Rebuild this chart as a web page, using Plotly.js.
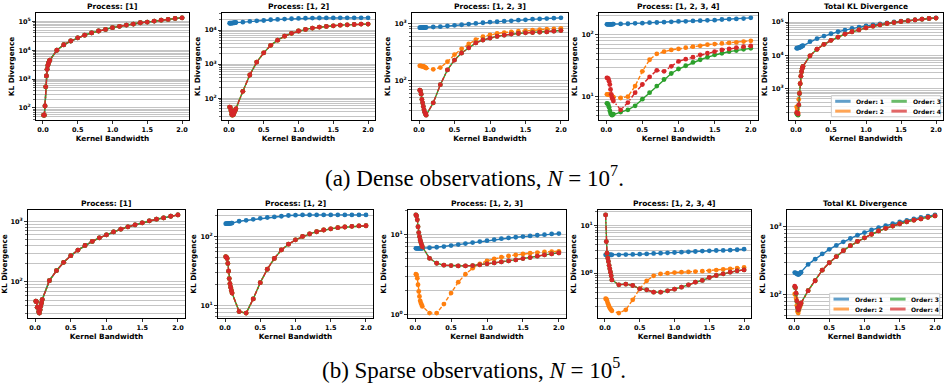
<!DOCTYPE html>
<html><head><meta charset="utf-8">
<script src="https://cdn.plot.ly/plotly-3.0.1.min.js"></script>
<style>html,body{margin:0;padding:0;background:#fff}</style>
</head><body><div id="chart" style="width:948px;height:392px"></div>
<script>
const bandwidth = [0.01,0.02,0.03,0.04,0.05,0.06,0.07,0.08,0.09,0.1,0.2,0.3,0.4,0.5,0.6,0.7,0.8,0.9,1.0,1.1,1.2,1.3,1.4,1.5,1.6,1.7,1.8,1.9,2.0];
const xTickVals = [0, 0.5, 1, 1.5, 2];
const xTickText = ['0.0','0.5','1.0','1.5','2.0'];
const orderNames = ['Order: 1','Order: 2','Order: 3','Order: 4'];
const panelTitles = ['Process: [1]','Process: [1, 2]','Process: [1, 2, 3]','Process: [1, 2, 3, 4]','Total KL Divergence'];
const captions = ['(a) Dense observations, <i>N</i> = 10<sup>7</sup>.', '(b) Sparse observations, <i>N</i> = 10<sup>5</sup>.'];

// ---- Dense observations ----
const dense_p1 = [56,56,117,537,1290,2180,2950,3540,4100,4570,10000,15500,20900,27000,33300,40000,46500,53000,60800,67600,75000,81000,90000,95000,103000,111000,117000,127000,133000];
const dense_p12_o1 = [15800,15800,15850,15900,16000,16100,16200,16300,16400,16600,17000,17800,18600,19000,20000,20400,20900,21400,21900,22100,22400,22500,22600,22600,22700,22700,22700,22700,22700];
const dense_p12_o234 = [55,53,43,34,32,33,35,40,44,49,160,480,1150,2140,3550,5030,6600,8000,9360,10400,11400,12200,12700,13300,13900,14200,14500,14900,14900];
const dense_p123_o1 = [843,843,843,844,845,846,847,848,849,850,866,877,902,925,948,975,1000,1026,1054,1070,1096,1110,1140,1155,1186,1200,1216,1232,1250];
const dense_p123_o2 = [182,182,180,179,178,177,175,172,169,166,158,169,214,285,360,438,520,585,633,667,693,711,731,750,760,780,790,800,822];
const dense_p123_o34 = [68,66,58,47,41,35.5,31,28,26.5,25,41,85,154,229,304,375,456,513,555,593,624,650,667,684,693,703,711,731,750];
const dense_p1234_o1 = [146,146,146,146,146,146,146,146,147,147,148,149,151,152,155,156,158,160,162,163,165,167,169,170,174,176,178,180,185];
const dense_p1234_o2 = [11.0,11.0,11.0,10.9,10.9,10.8,10.6,10.2,10.0,9.9,9.6,10.1,14.9,25.7,39.4,49.0,53.0,56.6,58.7,61.6,63.8,66.0,68.7,70.3,72.1,73.4,74.8,77.0,79.4];
const dense_p1234_o3 = [7.9,7.8,7.4,6.8,6.0,5.5,5.25,5.1,5.15,5.3,5.7,6.2,7.2,9.2,11.7,14.9,19.0,23.7,28.0,31.6,35.7,39.4,43.4,47.2,50.1,53.2,55.2,58.0,60.1];
const dense_p1234_o4 = [20.2,20.0,19.5,17.9,15.8,13.2,11.0,9.8,9.2,8.6,6.2,8.1,11.7,15.8,20.9,26.7,25.7,30.9,37.0,40.3,43.4,47.2,50.1,53.2,56.6,58.7,61.6,63.8,65.5];
const dense_total_o1 = [16500,16700,16800,17000,17300,17700,18200,18700,19300,19800,26000,32000,38400,45000,51700,57900,64900,70900,77800,83300,89200,95500,102000,107000,112000,117000,123000,129000,135000];
const dense_total_o2 = [285,240,190,480,760,1450,2400,3280,4120,4720,9800,15400,21700,28500,35800,44000,51700,59200,67700,75900,83300,91300,97800,105000,110000,117000,123000,129000,133000];
const dense_total_o3 = [180,170,162,320,710,1410,2380,3270,4110,4710,9800,15400,21700,28500,35800,44000,51700,59200,67700,75900,83300,91300,97800,105000,110000,117000,123000,129000,133000];
const dense_total_o4 = [195,185,175,330,720,1420,2390,3270,4110,4710,9800,15400,21700,28500,35800,44000,51700,59200,67700,75900,83300,91300,97800,105000,110000,117000,123000,129000,133000];

// ---- Sparse observations ----
const sparse_p1 = [47.9,46.8,38,38,32,30.5,34.7,39.8,45,51,105,154,211,272,337,402,468,537,603,676,748,817,881,951,1026,1093,1149,1224,1288];
const sparse_p12_o1 = [153,153,153,153,154,154,155,155,156,156,166,171,177,183,188,192,196,201,203,205,205,205,205,205,205,205,205,205,205];
const sparse_p12_o234 = [51,50,48,40.7,31.5,24.6,20.8,18.5,16.6,15.2,8.2,7.8,12.5,21.5,33.6,48.2,63.8,77.3,89.4,100,109,117,124,129,134,137,140,142,143];
const sparse_p123_o1 = [6.7,6.7,6.7,6.7,6.7,6.7,6.7,6.7,6.7,6.7,6.8,6.9,7.03,7.24,7.45,7.66,7.88,8.11,8.34,8.58,8.83,9.01,9.19,9.36,9.53,9.72,9.9,10.1,10.2];
const sparse_p123_o2 = [3.19,3.13,2.85,2.36,1.95,1.69,1.49,1.40,1.33,1.27,1.05,1.05,1.36,1.86,2.54,3.19,3.79,4.29,4.67,4.94,5.19,5.39,5.54,5.70,5.81,5.93,6.04,6.10,6.15];
const sparse_p123_o34 = [17.4,16.9,15.1,12.4,10.5,9.36,8.5,7.9,7.4,7.0,5.03,4.37,4.13,4.09,4.05,4.05,4.09,4.17,4.29,4.41,4.54,4.67,4.80,4.99,5.14,5.34,5.54,5.70,5.87];
const sparse_p1234_o1 = [2.43,2.43,2.43,2.43,2.43,2.43,2.43,2.43,2.43,2.43,2.43,2.45,2.47,2.50,2.54,2.59,2.63,2.67,2.71,2.76,2.80,2.85,2.90,2.94,2.99,3.00,3.04,3.10,3.18];
const sparse_p1234_o2 = [0.29,0.285,0.263,0.235,0.217,0.20,0.185,0.176,0.17,0.162,0.145,0.17,0.276,0.469,0.69,0.879,0.968,1.0,1.03,1.05,1.06,1.08,1.10,1.12,1.16,1.20,1.23,1.27,1.32];
const sparse_p1234_o34 = [16.7,4.6,2.63,2.07,1.76,1.45,1.23,1.05,0.88,0.72,0.569,0.587,0.551,0.469,0.447,0.399,0.399,0.426,0.461,0.508,0.569,0.647,0.702,0.811,0.893,0.968,1.05,1.12,1.17];
const sparse_total_o1 = [212,210,207,205,201,199,201,205,210,215,280,334,399,466,532,601,671,750,819,895,968,1033,1105,1181,1234,1303,1364,1426,1490];
const sparse_total_o2 = [103,100,88,70,57,54,60,66,70,74,115,161,230,296,365,445,526,608,687,775,866,946,1023,1105,1181,1248,1303,1377,1442];
const sparse_total_o3 = [130,126,104,80,64,59.5,64,69,72,76,115,161,230,296,365,445,526,608,687,775,866,946,1023,1105,1181,1248,1303,1377,1442];
const sparse_total_o4 = [134,128,106,81,65,60,64,69,72,76,115,161,230,296,365,445,526,608,687,775,866,946,1023,1105,1181,1248,1303,1377,1442];

// panel -> [order1, order2, order3, order4]
const panels = [
  [dense_p1, dense_p1, dense_p1, dense_p1],
  [dense_p12_o1, dense_p12_o234, dense_p12_o234, dense_p12_o234],
  [dense_p123_o1, dense_p123_o2, dense_p123_o34, dense_p123_o34],
  [dense_p1234_o1, dense_p1234_o2, dense_p1234_o3, dense_p1234_o4],
  [dense_total_o1, dense_total_o2, dense_total_o3, dense_total_o4],
  [sparse_p1, sparse_p1, sparse_p1, sparse_p1],
  [sparse_p12_o1, sparse_p12_o234, sparse_p12_o234, sparse_p12_o234],
  [sparse_p123_o1, sparse_p123_o2, sparse_p123_o34, sparse_p123_o34],
  [sparse_p1234_o1, sparse_p1234_o2, sparse_p1234_o34, sparse_p1234_o34],
  [sparse_total_o1, sparse_total_o2, sparse_total_o3, sparse_total_o4]
];

// ---- styling / geometry ----
const W = 948, H = 392;
const FONT = 'DejaVu Sans';
const colors = ['#1f77b4','#ff7f0e','#2ca02c','#d62728'];
const dashes = ['solid','4px,2px','solid','5px,2px,1.5px,2px'];
const GRID = '#c4c4c4';
// plot-area boxes in px: [left, right, top, bottom]
const boxes = [
  [36,189,13,120],[222,375,13,120],[412,568,13,120],[599,758,13,120],[789,943,13,120],
  [28,185,210,318],[218,373,210,318],[408,566,210,318],[598,751,210,318],[787,942,210,318]
];

const traces = [];
const layout = {
  width: W, height: H, margin: {l:0, r:0, t:0, b:0},
  paper_bgcolor: '#fff', plot_bgcolor: '#fff', showlegend: false,
  annotations: [], shapes: []
};

function sfx(k){ return k === 1 ? '' : String(k); }

panels.forEach((series, i) => {
  const k = i + 1, s = sfx(k), b = boxes[i];
  // data-driven log range with 5% padding (matplotlib style)
  let lo = Infinity, hi = -Infinity;
  series.forEach(arr => arr.forEach(v => { const l = Math.log10(v); if (l < lo) lo = l; if (l > hi) hi = l; }));
  const pad = (hi - lo) * 0.05; lo -= pad; hi += pad;
  const majors = [], majText = [], minors = [];
  for (let e = Math.floor(lo); e <= Math.ceil(hi); e++) {
    for (let m = 1; m <= 9; m++) {
      const v = m * Math.pow(10, e), l = Math.log10(v);
      if (l < lo || l > hi) continue;
      if (m === 1) { majors.push(v); majText.push('10<sup>' + e + '</sup>'); }
      else minors.push(v);
    }
  }
  const tickFont = {family: FONT, size: 6.5, color: '#000', weight: 'bold'};
  const titleFont = {family: FONT, size: 7.3, color: '#000', weight: 'bold'};
  layout['xaxis' + s] = {
    domain: [b[0] / W, b[1] / W], anchor: 'y' + s, range: [-0.0995, 2.0995],
    tickmode: 'array', tickvals: xTickVals, ticktext: xTickText,
    ticks: 'outside', ticklen: 3, tickwidth: 0.8, tickcolor: '#000',
    showline: true, linecolor: '#000', linewidth: 1, mirror: true,
    showgrid: false, zeroline: false, tickfont: tickFont, automargin: false,
    title: {text: 'Kernel Bandwidth', font: titleFont, standoff: 1}
  };
  layout['yaxis' + s] = {
    domain: [1 - b[3] / H, 1 - b[2] / H], anchor: 'x' + s, type: 'log', range: [lo, hi],
    tickmode: 'array', tickvals: majors, ticktext: majText,
    ticks: 'outside', ticklen: 3, tickwidth: 0.8, tickcolor: '#000',
    showline: true, linecolor: '#000', linewidth: 1, mirror: true,
    showgrid: true, gridcolor: GRID, gridwidth: 1, zeroline: false,
    minor: {tickmode: 'array', tickvals: minors, ticks: 'outside', ticklen: 1.8, tickwidth: 0.6, tickcolor: '#000', showgrid: true, gridcolor: GRID, gridwidth: 1},
    tickfont: tickFont, automargin: false,
    title: {text: 'KL Divergence', font: titleFont, standoff: 2}
  };
  series.forEach((arr, j) => {
    traces.push({
      type: 'scatter', mode: 'lines+markers', x: bandwidth, y: arr,
      xaxis: 'x' + s, yaxis: 'y' + s, name: orderNames[j], showlegend: false,
      line: {color: colors[j], width: 1.4, dash: dashes[j]},
      marker: {color: colors[j], size: 4.8, symbol: 'circle'}
    });
  });
  layout.annotations.push({
    text: panelTitles[i % 5], xref: 'x' + s + ' domain', yref: 'y' + s + ' domain',
    x: 0.5, y: 1, xanchor: 'center', yanchor: 'bottom', yshift: 0, showarrow: false,
    font: {family: FONT, size: 7.5, color: '#000', weight: 'bold'}
  });
});

// manual compact legends in the two "Total" panels
[5, 10].forEach(k => {
  const s = sfx(k), xr = 'x' + s + ' domain', yr = 'y' + s + ' domain';
  layout.shapes.push({type: 'rect', xref: xr, yref: yr, x0: 0.275, x1: 0.985, y0: 0.03, y1: 0.228,
    line: {color: '#cccccc', width: 1}, fillcolor: 'rgba(255,255,255,0.85)', layer: 'above'});
  const cols = [[0.30, 0.40, 0.425], [0.665, 0.765, 0.79]];
  const rows = [0.175, 0.083];
  orderNames.forEach((nm, j) => {
    const c = cols[Math.floor(j / 2)], r = rows[j % 2];
    layout.shapes.push({type: 'line', xref: xr, yref: yr, x0: c[0], x1: c[1], y0: r, y1: r,
      line: {color: colors[j], width: 3}, opacity: 0.7, layer: 'above'});
    layout.annotations.push({text: nm, xref: xr, yref: yr, x: c[2], y: r, xanchor: 'left', yanchor: 'middle',
      showarrow: false, font: {family: FONT, size: 6, color: '#000', weight: 'bold'}});
  });
});

// figure captions
const capY = [177, 368];
captions.forEach((c, i) => {
  layout.annotations.push({text: c, xref: 'paper', yref: 'paper', x: 0.5, y: 1 - capY[i] / H,
    xanchor: 'center', yanchor: 'middle', showarrow: false,
    font: {family: 'Liberation Serif', size: 23, color: '#000'}});
});

Plotly.newPlot('chart', traces, layout, {staticPlot: true, displayModeBar: false});
</script></body></html>
